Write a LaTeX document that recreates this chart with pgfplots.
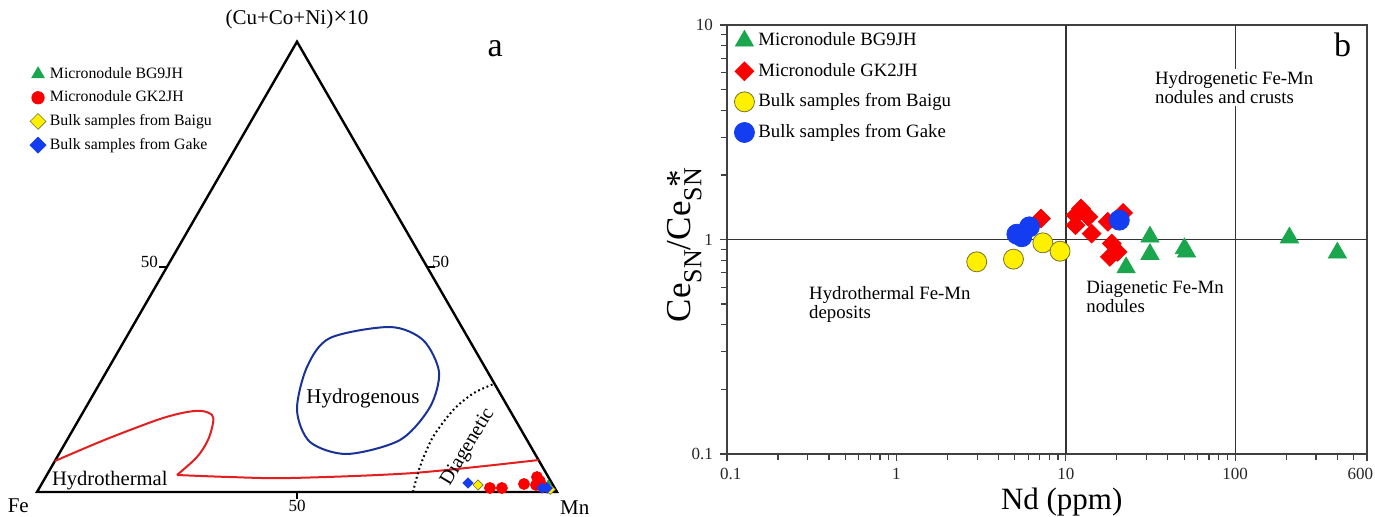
\documentclass[border=0pt]{standalone}
\usepackage{fontspec}
\setmainfont{Liberation Serif}
\usepackage{pgfplots}
\pgfplotsset{compat=1.18}

\definecolor{cgreen}{RGB}{26,166,76}
\definecolor{cred}{RGB}{250,0,0}
\definecolor{cyellow}{RGB}{255,240,0}
\definecolor{cyedge}{RGB}{120,115,40}
\definecolor{cblue}{RGB}{20,60,240}
\definecolor{cnavy}{RGB}{25,50,150}
\definecolor{cfield}{RGB}{228,30,30}

\newcommand{\subSN}{\raisebox{-0.3em}{\fontsize{13}{13}\selectfont SN}}

\begin{document}
\begin{tikzpicture}
\path[use as bounding box] (0,0) rectangle (687.5pt,258pt);

% ---------------- (a) ternary diagram, cartesian projection ----------------
\begin{axis}[
    at={(18.5pt,12pt)}, anchor=south west, scale only axis,
    width=260pt, height=225.17pt,
    xmin=0, xmax=100, ymin=0, ymax=86.6,
    axis lines=none, clip=false,
    legend style={at={(axis description cs:-0.014,0.953)}, anchor=north west,
        draw=none, fill=none, inner sep=0pt, row sep=0.8pt,
        font=\fontsize{7.9}{8}\selectfont, cells={anchor=west}},
    legend image code/.code={\draw[#1] plot coordinates {(0pt,0pt)};},
]
% triangle and ticks
\addplot[black, line width=1.2pt, line join=miter, forget plot] coordinates {(0,0) (100,0) (50,86.6)} -- cycle;
\addplot[black, line width=0.8pt, forget plot] coordinates {(25,43.3) (23.4,43.3)};
\addplot[black, line width=0.8pt, forget plot] coordinates {(75,43.3) (76.6,43.3)};
\addplot[black, line width=0.8pt, forget plot] coordinates {(50,0) (50,-1.3)};

% hydrothermal field
\addplot[cfield, line width=1pt, smooth, tension=0.55, forget plot] coordinates {
    (3.44,5.96) (11.54,9.42) (17.88,11.92) (24.23,14.23) (28.85,15.38)
    (31.73,15.58) (33.65,14.81) (33.85,13.27) (32.88,10.0) (30.77,6.73) (26.92,3.27)};
\addplot[cfield, line width=1pt, smooth, forget plot] coordinates {
    (26.92,3.27) (37.12,2.88) (48.65,2.69) (72.31,3.65) (96.45,6.15)};
% hydrogenous field
\addplot[cnavy, line width=1pt, smooth cycle, forget plot] coordinates {
    (56.35,29.62) (67.88,31.73) (74.23,29.23) (77.31,23.08) (75.58,16.35)
    (69.81,10.0) (59.62,7.31) (52.5,9.62) (50.0,15.77) (51.92,24.04)};
% diagenetic boundary
\addplot[black, line width=1pt, dash pattern=on 0.9pt off 1.4pt, smooth, forget plot] coordinates {
    (72.31,0) (73.65,4.87) (76.15,10.58) (80.06,15.77) (83.9,18.97) (87.9,20.8)};

% samples
\addplot[only marks, mark=triangle*, mark size=2.6pt, color=cgreen, forget plot] coordinates {(98.3,1.3)};
\addplot[only marks, mark=*, mark size=2.75pt, color=cred, forget plot] coordinates {
    (87.1,0.77) (89.4,0.77) (93.65,1.54) (96.15,2.88) (95.96,1.35) (96.7,2.1) (97.3,0.96)};
\addplot[only marks, mark=square*, mark size=1.8pt, mark options={rotate=45, fill=cyellow, draw=cyedge, line width=0.3pt}, forget plot] coordinates {
    (84.81,1.35) (98.7,0.5)};
\addplot[only marks, mark=square*, mark size=1.8pt, mark options={rotate=45}, color=cblue, forget plot] coordinates {
    (82.88,1.73) (97.1,0.77) (98.1,0.77)};

% legend
\addlegendimage{only marks, mark=triangle*, mark size=3.6pt, color=cgreen}
\addlegendentry{Micronodule BG9JH}
\addlegendimage{only marks, mark=*, mark size=3.1pt, color=cred}
\addlegendentry{Micronodule GK2JH}
\addlegendimage{only marks, mark=square*, mark size=2.8pt, mark options={rotate=45, fill=cyellow, draw=cyedge, line width=0.3pt}}
\addlegendentry{Bulk samples from Baigu}
\addlegendimage{only marks, mark=square*, mark size=2.8pt, mark options={rotate=45}, color=cblue}
\addlegendentry{Bulk samples from Gake}

% labels
\node[font=\fontsize{10.5}{11}\selectfont] at (axis cs:50,90.9) {(Cu+Co+Ni){\fontsize{12.5}{12}\selectfont ×}10};
\node[font=\fontsize{10.5}{11}\selectfont] at (axis cs:-3.6,-2.6) {Fe};
\node[font=\fontsize{10.5}{11}\selectfont] at (axis cs:103.4,-3.0) {Mn};
\node[font=\fontsize{17}{17}\selectfont] at (axis cs:88.1,85.2) {a};
\node[font=\fontsize{8.5}{9}\selectfont] at (axis cs:21.6,44.3) {50};
\node[font=\fontsize{8.5}{9}\selectfont] at (axis cs:77.6,44.3) {50};
\node[font=\fontsize{8.5}{9}\selectfont] at (axis cs:50,-2.6) {50};
\node[font=\fontsize{10.3}{11}\selectfont] at (axis cs:14.0,2.2) {Hydrothermal};
\node[font=\fontsize{10.5}{11}\selectfont] at (axis cs:62.7,17.9) {Hydrogenous};
\node[font=\fontsize{10}{11}\selectfont, rotate=59] at (axis cs:82.9,8.6) {Diagenetic};
\end{axis}

% ---------------- (b) Ce anomaly vs Nd ----------------
\begin{axis}[
    at={(363.5pt,31pt)}, anchor=south west, scale only axis,
    width=320pt, height=214.5pt,
    xmode=log, ymode=log,
    xmin=0.1, xmax=600, ymin=0.1, ymax=10,
    xtick={0.1,1,10,100,600},
    xticklabels={\makebox[7pt][l]{\textrm{0.1}},\textrm{1},\textrm{10},\textrm{100},\makebox[6pt][r]{\textrm{600}}},
    ytick={0.1,1,10}, yticklabels={\textrm{0.1},\textrm{1},\textrm{10}},
    minor xtick={0.2,0.3,0.4,0.5,0.6,0.7,0.8,0.9,2,3,4,5,6,7,8,9,20,30,40,50,60,70,80,90,200,300,400,500},
    minor ytick={0.2,0.3,0.4,0.5,0.6,0.7,0.8,0.9,2,3,4,5,6,7,8,9},
    tick align=outside, xtick pos=left, ytick pos=left,
    major tick length=3.5pt, minor tick length=2.8pt,
    tick style={black!75, line width=0.6pt},
    axis line style={black!75, line width=0.7pt},
    tick label style={font=\fontsize{8.5}{9}\selectfont, text=black!85},
    xlabel={Nd (ppm)},
    xlabel style={font=\fontsize{15.5}{16}\selectfont, at={(axis description cs:0.523,-0.112)}, anchor=center},
    ylabel={Ce\subSN/Ce\subSN\kern-0.55em{*}\kern0.25em},
    ylabel style={font=\fontsize{17.5}{18}\selectfont, at={(axis description cs:-0.066,0.495)}, anchor=center},
    legend style={at={(axis description cs:0.011,0.992)}, anchor=north west,
        draw=none, fill=none, inner sep=0pt, row sep=3.2pt,
        font=\fontsize{9.4}{10}\selectfont, cells={anchor=west}},
    legend image code/.code={\draw[#1] plot coordinates {(0pt,0pt)};},
]
\addplot[black!80, line width=0.7pt, forget plot] coordinates {(10,0.1) (10,10)};
\addplot[black!80, line width=0.7pt, forget plot] coordinates {(100,0.1) (100,10)};
\addplot[black!80, line width=0.7pt, forget plot] coordinates {(0.1,1) (600,1)};

\node[font=\fontsize{9.4}{9.6}\selectfont, align=left, anchor=west, fill=white, inner sep=1pt] at (axis cs:32.6,5.11) {Hydrogenetic Fe-Mn\\nodules and crusts};
\node[font=\fontsize{9.4}{9.6}\selectfont, align=left, anchor=west, inner sep=1pt] at (axis cs:0.296,0.50) {Hydrothermal Fe-Mn\\deposits};
\node[font=\fontsize{9.4}{9.6}\selectfont, align=left, anchor=west, inner sep=1pt] at (axis cs:12.8,0.542) {Diagenetic Fe-Mn\\nodules};
\node[font=\fontsize{17}{17}\selectfont] at (axis cs:431,8.07) {b};

% Micronodule BG9JH
\addplot[only marks, mark=triangle*, mark size=5.2pt, color=cgreen] coordinates {
    (31.4,1.029) (31.4,0.854) (50.1,0.908) (51.6,0.876) (22.7,0.740) (209,1.02) (401,0.867)};
\addlegendentry{Micronodule BG9JH}
% Micronodule GK2JH
\addplot[only marks, mark=square*, mark size=3.3pt, mark options={rotate=45}, color=cred] coordinates {
    (7.13,1.253) (12.3,1.395) (11.4,1.298) (13.6,1.275) (11.4,1.166) (14.2,1.066)
    (17.7,1.209) (21.8,1.331) (18.7,0.958) (20.2,0.876) (18.2,0.830)};
\addlegendentry{Micronodule GK2JH}
% Bulk samples from Baigu
\addplot[only marks, mark=*, mark size=5pt, mark options={fill=cyellow, draw=cyedge, line width=0.4pt}] coordinates {
    (2.98,0.787) (4.91,0.810) (7.32,0.965) (9.25,0.882)};
\addlegendentry{Bulk samples from Baigu}
% Bulk samples from Gake
\addplot[only marks, mark=*, mark size=5pt, color=cblue] coordinates {
    (6.1,1.146) (5.14,1.059) (5.5,1.03) (20.7,1.231)};
\addlegendentry{Bulk samples from Gake}
\end{axis}
\end{tikzpicture}
\end{document}
